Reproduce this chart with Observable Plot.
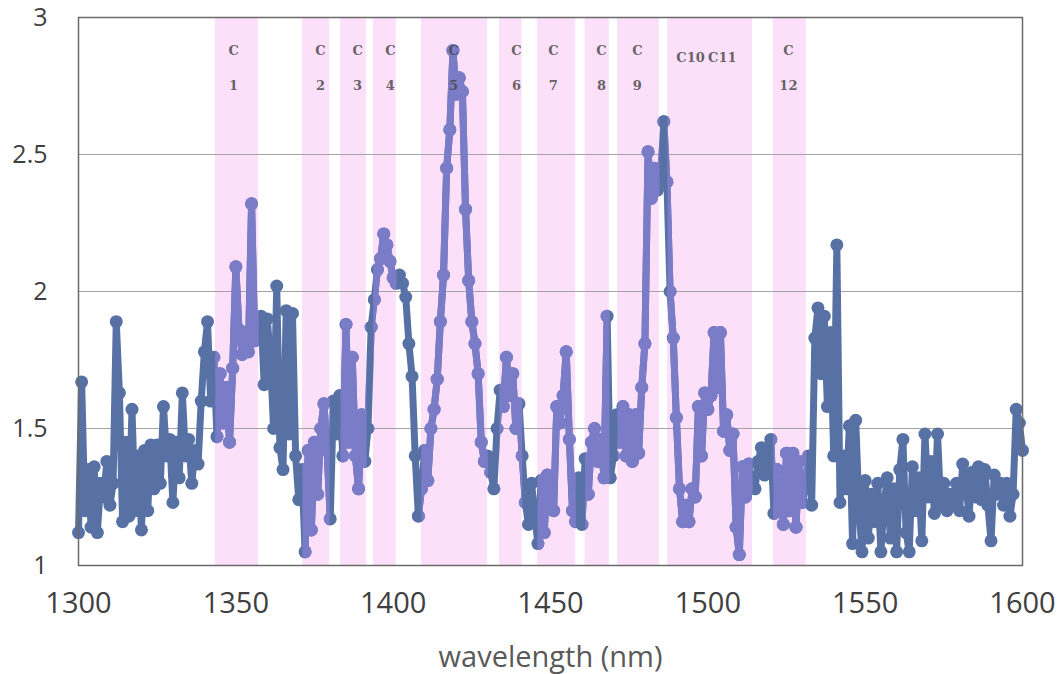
<!DOCTYPE html>
<html><head><meta charset="utf-8">
<script src="https://cdn.jsdelivr.net/npm/d3@7"></script>
<script src="https://cdn.jsdelivr.net/npm/@observablehq/plot@0.6"></script>
<style>body{margin:0;background:#fff;}</style>
</head><body><div id="chart"></div>
<script>
const wavelength = [
1300,1301,1302,1303,1304,1305,1306,1307,1308,1309,
1310,1311,1312,1313,1314,1315,1316,1317,1318,1319,
1320,1321,1322,1323,1324,1325,1326,1327,1328,1329,
1330,1331,1332,1333,1334,1335,1336,1337,1338,1339,
1340,1341,1342,1343,1344,1345,1346,1347,1348,1349,
1350,1351,1352,1353,1354,1355,1356,1357,1358,1359,
1360,1361,1362,1363,1364,1365,1366,1367,1368,1369,
1370,1371,1372,1373,1374,1375,1376,1377,1378,1379,
1380,1381,1382,1383,1384,1385,1386,1387,1388,1389,
1390,1391,1392,1393,1394,1395,1396,1397,1398,1399,
1400,1401,1402,1403,1404,1405,1406,1407,1408,1409,
1410,1411,1412,1413,1414,1415,1416,1417,1418,1419,
1420,1421,1422,1423,1424,1425,1426,1427,1428,1429,
1430,1431,1432,1433,1434,1435,1436,1437,1438,1439,
1440,1441,1442,1443,1444,1445,1446,1447,1448,1449,
1450,1451,1452,1453,1454,1455,1456,1457,1458,1459,
1460,1461,1462,1463,1464,1465,1466,1467,1468,1469,
1470,1471,1472,1473,1474,1475,1476,1477,1478,1479,
1480,1481,1482,1483,1484,1485,1486,1487,1488,1489,
1490,1491,1492,1493,1494,1495,1496,1497,1498,1499,
1500,1501,1502,1503,1504,1505,1506,1507,1508,1509,
1510,1511,1512,1513,1514,1515,1516,1517,1518,1519,
1520,1521,1522,1523,1524,1525,1526,1527,1528,1529,
1530,1531,1532,1533,1534,1535,1536,1537,1538,1539,
1540,1541,1542,1543,1544,1545,1546,1547,1548,1549,
1550,1551,1552,1553,1554,1555,1556,1557,1558,1559,
1560,1561,1562,1563,1564,1565,1566,1567,1568,1569,
1570,1571,1572,1573,1574,1575,1576,1577,1578,1579,
1580,1581,1582,1583,1584,1585,1586,1587,1588,1589,
1590,1591,1592,1593,1594,1595,1596,1597,1598,1599,
1600];
const intensity = [
1.12,1.67,1.20,1.35,1.14,1.36,1.12,1.30,1.25,1.38,
1.22,1.30,1.89,1.63,1.16,1.45,1.18,1.57,1.20,1.40,
1.13,1.42,1.20,1.44,1.28,1.44,1.30,1.58,1.40,1.46,
1.23,1.45,1.32,1.63,1.40,1.46,1.30,1.42,1.37,1.60,
1.78,1.89,1.60,1.76,1.47,1.70,1.52,1.65,1.45,1.72,
2.09,1.86,1.77,1.85,1.78,2.32,1.82,1.88,1.91,1.66,
1.90,1.75,1.50,2.02,1.43,1.35,1.93,1.48,1.92,1.40,
1.24,1.35,1.05,1.42,1.13,1.45,1.26,1.50,1.59,1.42,
1.17,1.60,1.48,1.62,1.40,1.88,1.45,1.76,1.40,1.28,
1.55,1.38,1.50,1.87,1.97,2.08,2.12,2.21,2.17,2.11,
2.05,2.03,2.06,2.03,1.98,1.81,1.69,1.40,1.18,1.28,
1.42,1.31,1.50,1.57,1.68,1.89,2.06,2.45,2.59,2.88,
2.72,2.78,2.73,2.30,2.04,1.89,1.81,1.70,1.45,1.38,
1.40,1.34,1.28,1.50,1.64,1.58,1.76,1.62,1.70,1.50,
1.59,1.40,1.23,1.15,1.30,1.18,1.08,1.31,1.12,1.33,
1.32,1.20,1.58,1.52,1.62,1.78,1.46,1.20,1.16,1.32,
1.15,1.39,1.26,1.45,1.50,1.38,1.46,1.32,1.91,1.32,
1.40,1.55,1.45,1.58,1.40,1.55,1.38,1.55,1.41,1.65,
1.81,2.51,2.34,2.45,2.37,2.40,2.62,2.40,2.00,1.83,
1.54,1.28,1.16,1.22,1.16,1.28,1.25,1.58,1.40,1.63,
1.57,1.62,1.85,1.65,1.85,1.49,1.55,1.42,1.48,1.14,
1.04,1.36,1.25,1.37,1.30,1.28,1.38,1.43,1.33,1.41,
1.46,1.19,1.35,1.28,1.15,1.41,1.20,1.41,1.14,1.38,
1.23,1.29,1.40,1.22,1.83,1.94,1.70,1.91,1.58,1.85,
1.40,2.17,1.23,1.40,1.28,1.51,1.08,1.53,1.22,1.05,
1.31,1.10,1.26,1.16,1.30,1.05,1.22,1.32,1.10,1.28,
1.05,1.35,1.46,1.12,1.05,1.36,1.20,1.32,1.09,1.48,
1.25,1.38,1.19,1.48,1.22,1.30,1.20,1.26,1.22,1.30,
1.20,1.37,1.30,1.18,1.34,1.25,1.36,1.24,1.35,1.22,
1.09,1.33,1.26,1.30,1.22,1.30,1.18,1.26,1.57,1.52,
1.42];

const bandStart = [1343.5, 1371.2, 1383.3, 1393.7, 1409.0, 1433.8, 1445.9, 1461.0, 1471.3, 1487.2, 1520.8];
const bandEnd   = [1357.2, 1379.8, 1391.5, 1401.0, 1430.0, 1441.0, 1458.0, 1468.7, 1484.6, 1514.2, 1531.3];

const labelX      = [1349.3, 1376.9, 1388.7, 1399.1, 1419.2, 1439.2, 1450.9, 1466.2, 1477.6, 1525.6];
const labelTop    = ["C", "C", "C", "C", "C", "C", "C", "C", "C", "C"];
const labelBottom = ["1", "2", "3", "4", "5", "6", "7", "8", "9", "12"];
const singleLabelX = [1494.5, 1504.6];
const singleLabel  = ["C10", "C11"];

const xTicks = [1300, 1350, 1400, 1450, 1500, 1550, 1600];
const yTicks = [1, 1.5, 2, 2.5, 3];
const yGrid = [1.5, 2, 2.5];
const xTitle = ["wavelength (nm)"];

const data = wavelength.map((w, i) => ({w, v: intensity[i]}));
const bands = bandStart.map((s, i) => ({s, e: bandEnd[i]}));
const labels = labelX.map((x, i) => ({x, top: labelTop[i], bottom: labelBottom[i]}));
const singles = singleLabelX.map((x, i) => ({x, t: singleLabel[i]}));

const blue = "#5871a5", purple = "#7b7cc8", pink = "#fce0fa";
const labelFont = {fontFamily: "DejaVu Serif, serif", fontWeight: "bold", fontSize: 13, fill: "#4a4a4a", fillOpacity: 0.85};

const chart = Plot.plot({
  width: 1063, height: 674,
  marginLeft: 78, marginRight: 41, marginTop: 17, marginBottom: 109,
  x: {domain: [1300, 1600], axis: null},
  y: {domain: [1, 3], axis: null},
  style: {fontFamily: "Open Sans, sans-serif", background: "#fff"},
  marks: [
    Plot.rect(bands, {x1: "s", x2: "e", fill: pink}),
    Plot.ruleY(yGrid, {stroke: "#a3a3a3", strokeWidth: 1.2}),
    Plot.line(data, {x: "w", y: "v", stroke: blue, strokeWidth: 7, strokeLinejoin: "round"}),
    Plot.dot(data, {x: "w", y: "v", r: 6.5, fill: blue}),
    Plot.line(data, {x: "w", y: "v", stroke: purple, strokeWidth: 7, strokeLinejoin: "round"}),
    Plot.dot(data, {x: "w", y: "v", r: 6.5, fill: purple}),
    Plot.text(labels, {x: "x", text: "top", frameAnchor: "top", dy: 33, lineAnchor: "middle", ...labelFont}),
    Plot.text(labels, {x: "x", text: "bottom", frameAnchor: "top", dy: 68, lineAnchor: "middle", ...labelFont}),
    Plot.text(singles, {x: "x", text: "t", frameAnchor: "top", dy: 40, lineAnchor: "middle", ...labelFont}),
    Plot.frame({stroke: "#6a6a6a", strokeWidth: 1.5}),
    Plot.text(xTicks, {x: d => d, text: d => String(d), frameAnchor: "bottom", dy: 38, lineAnchor: "middle", fontSize: 29, fill: "#404040"}),
    Plot.text(yTicks, {y: d => d, text: d => String(d), frameAnchor: "left", dx: -31, textAnchor: "end", lineAnchor: "middle", fontSize: 25, fill: "#404040"}),
    Plot.text(xTitle, {frameAnchor: "bottom", dy: 92, lineAnchor: "middle", fontSize: 29, fill: "#595959"})
  ]
});
document.getElementById("chart").appendChild(chart);

// Line and dots appear purple where they pass through the highlighted bands
const root = chart.tagName.toLowerCase() === "svg" ? d3.select(chart) : d3.select(chart).select("svg");
const defs = root.insert("defs", ":first-child");
const cp = defs.append("clipPath").attr("id", "bandclip");
root.selectAll('g[aria-label="rect"] rect').each(function () { cp.node().appendChild(this.cloneNode(true)); });
const lines = root.selectAll('g[aria-label="line"]').nodes();
const dots = root.selectAll('g[aria-label="dot"]').nodes();
if (lines[1]) d3.select(lines[1]).attr("clip-path", "url(#bandclip)");
if (dots[1]) d3.select(dots[1]).attr("clip-path", "url(#bandclip)");
</script>
</body></html>
